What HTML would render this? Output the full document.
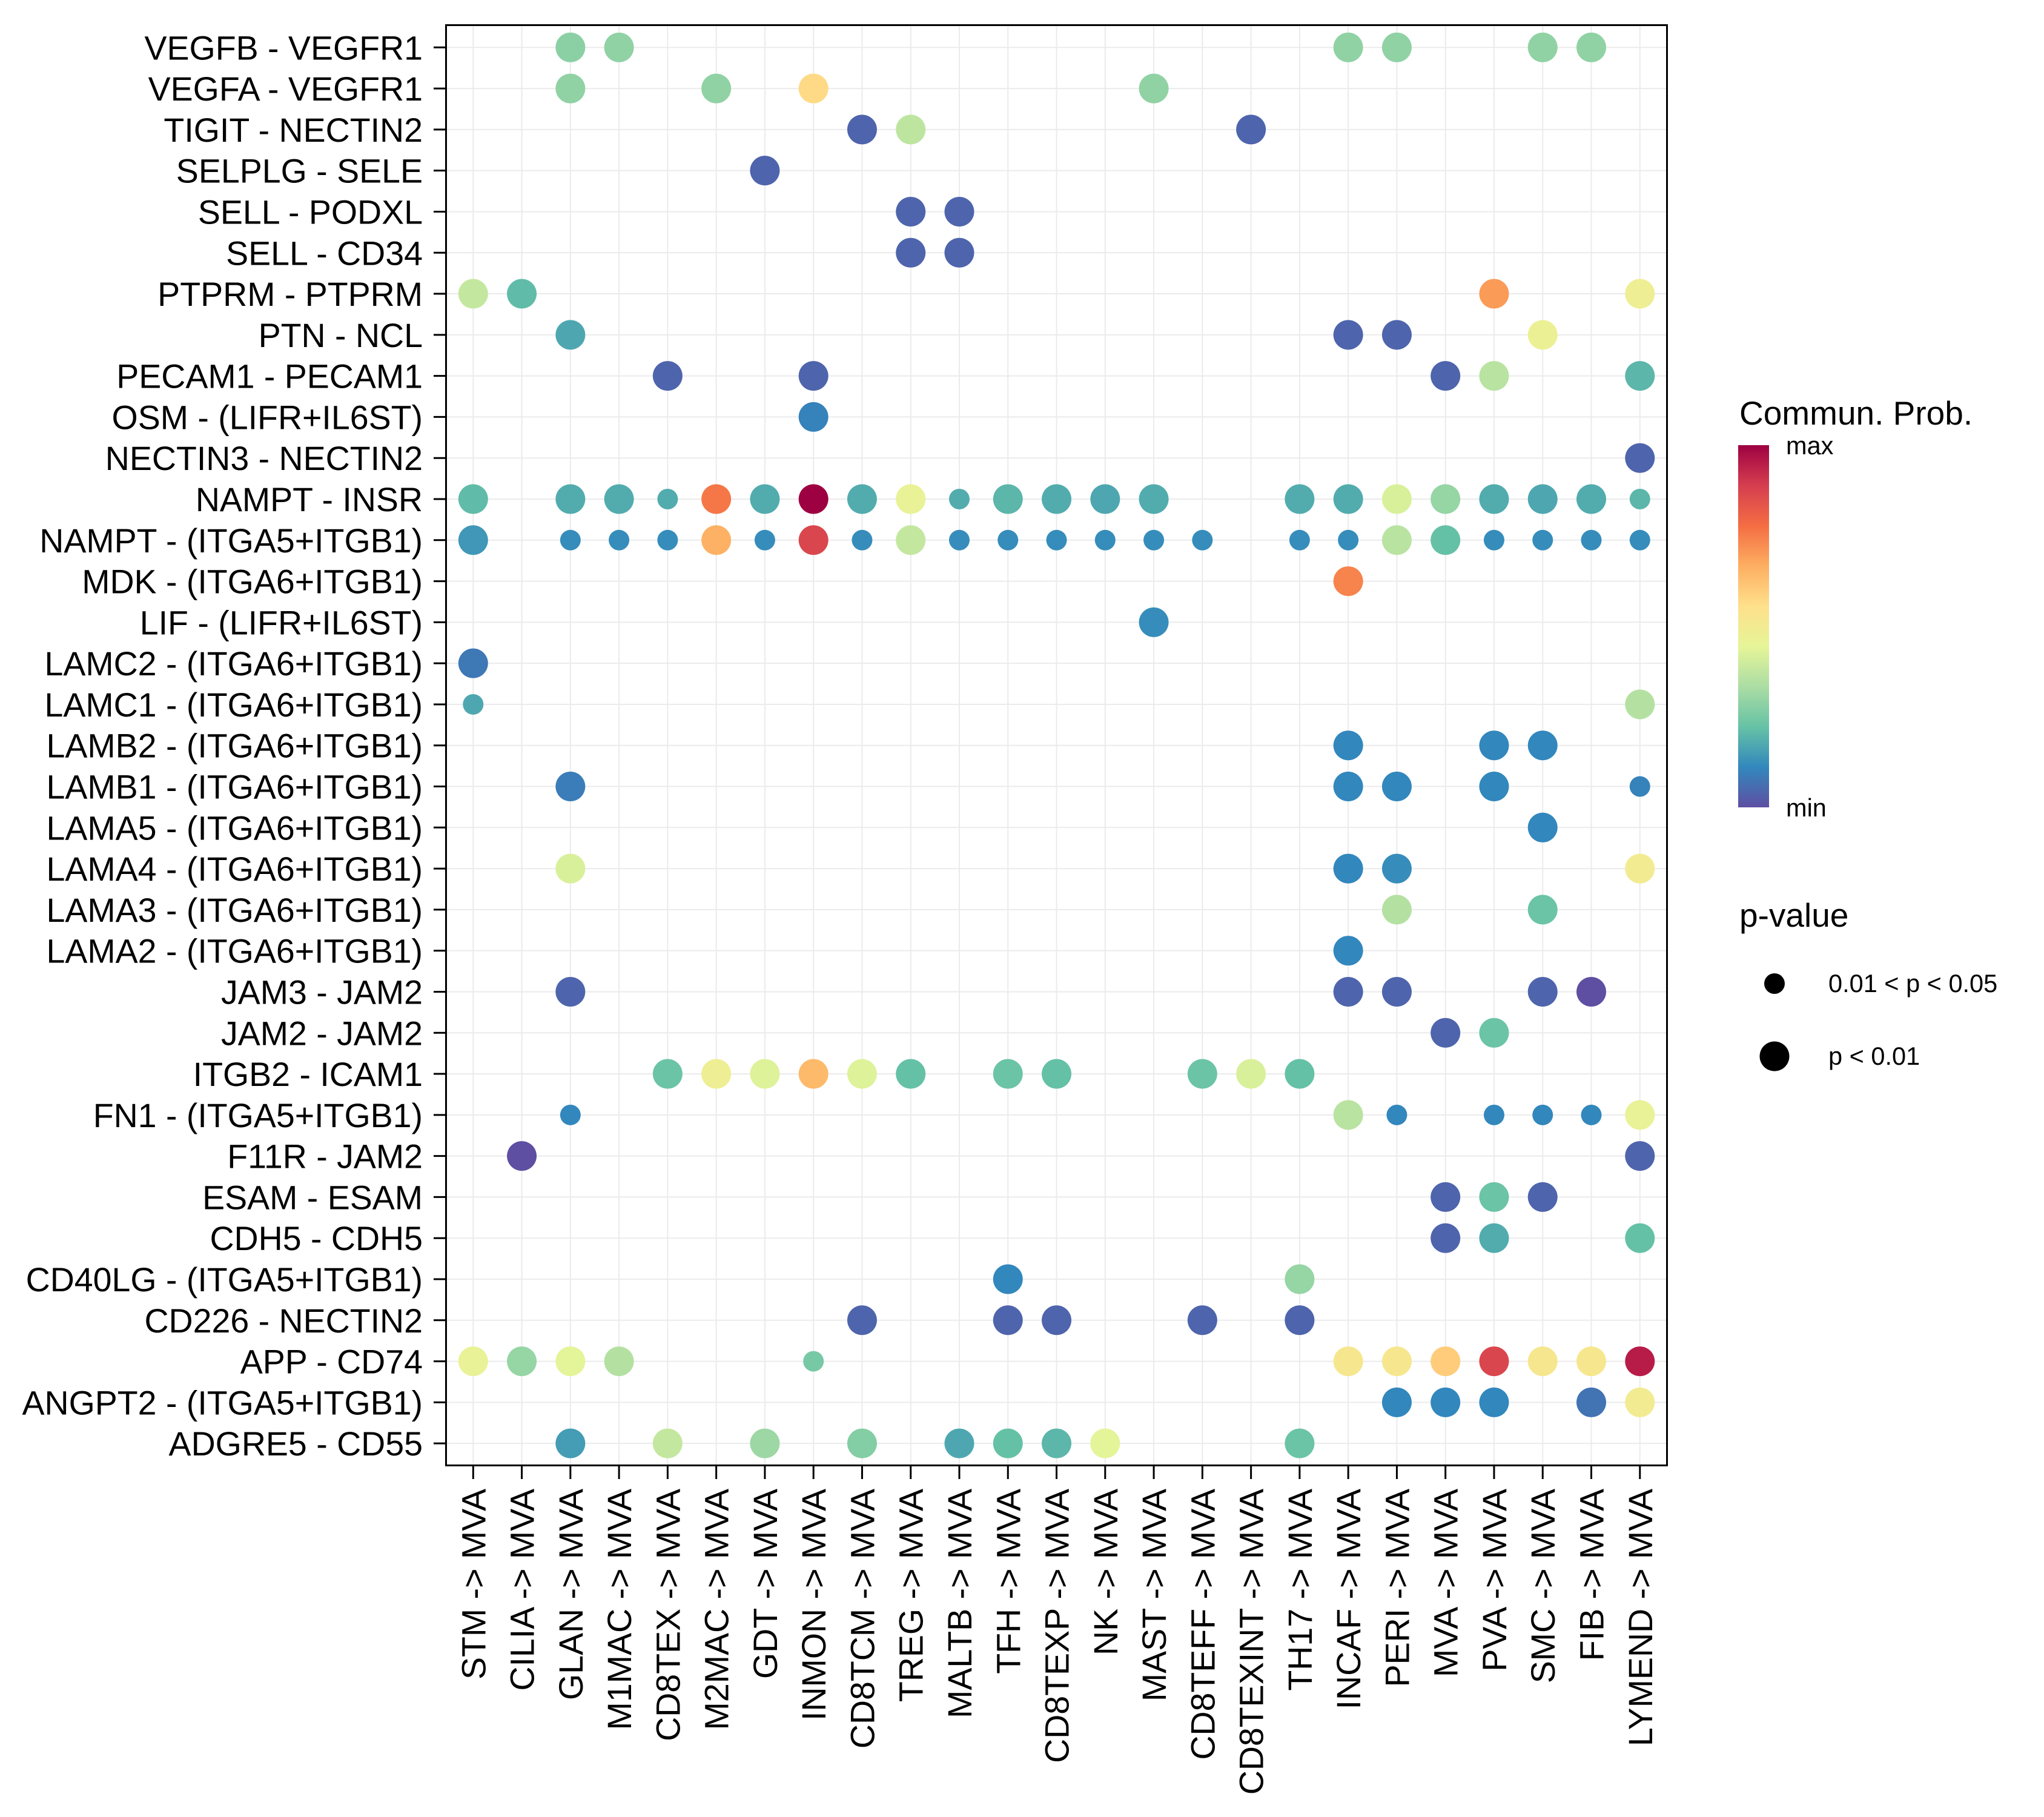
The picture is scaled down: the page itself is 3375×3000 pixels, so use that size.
<!DOCTYPE html>
<html><head><meta charset="utf-8"><style>
html,body{margin:0;padding:0;background:#fff;}
svg{display:block;font-family:"Liberation Sans",Arial,sans-serif;}
</style></head><body>
<svg id="chart" width="3375" height="3000" viewBox="0 0 3375 3000" xmlns="http://www.w3.org/2000/svg">
<defs>
<linearGradient id="spectral" x1="0" y1="1" x2="0" y2="0">
<stop offset="0" stop-color="#5E4FA2"/><stop offset="0.111" stop-color="#3288BD"/><stop offset="0.222" stop-color="#66C2A5"/><stop offset="0.333" stop-color="#ABDDA4"/><stop offset="0.444" stop-color="#E6F598"/><stop offset="0.556" stop-color="#FEE08B"/><stop offset="0.667" stop-color="#FDAE61"/><stop offset="0.778" stop-color="#F46D43"/><stop offset="0.889" stop-color="#D53E4F"/><stop offset="1" stop-color="#9E0142"/>
</linearGradient>
</defs>
<g id="grid"></g>
<g id="dots"></g>
<rect x="736.5" y="41.5" width="2016" height="2378" fill="none" stroke="#000" stroke-width="3"/>
<g id="yaxis"></g>
<g id="xaxis"></g>
<g>
<text x="2872" y="701" font-size="55">Commun. Prob.</text>
<rect x="2870" y="735" width="51" height="598" fill="url(#spectral)"/>
<text x="2949" y="750" font-size="41.5">max</text>
<text x="2949" y="1348" font-size="41.5">min</text>
</g>
<g>
<text x="2872" y="1530" font-size="55">p-value</text>
<circle cx="2930" cy="1624" r="17" fill="#000"/>
<text x="3019" y="1638" font-size="41.5">0.01 &lt; p &lt; 0.05</text>
<circle cx="2930" cy="1744" r="24.5" fill="#000"/>
<text x="3019" y="1758" font-size="41.5">p &lt; 0.01</text>
</g>
</svg>
<script>
const columns = ["STM","CILIA","GLAN","M1MAC","CD8TEX","M2MAC","GDT","INMON","CD8TCM","TREG","MALTB","TFH","CD8TEXP","NK","MAST","CD8TEFF","CD8TEXINT","TH17","INCAF","PERI","MVA","PVA","SMC","FIB","LYMEND"];
const rowLabels = ["VEGFB - VEGFR1","VEGFA - VEGFR1","TIGIT - NECTIN2","SELPLG - SELE","SELL - PODXL","SELL - CD34","PTPRM - PTPRM","PTN - NCL","PECAM1 - PECAM1","OSM - (LIFR+IL6ST)","NECTIN3 - NECTIN2","NAMPT - INSR","NAMPT - (ITGA5+ITGB1)","MDK - (ITGA6+ITGB1)","LIF - (LIFR+IL6ST)","LAMC2 - (ITGA6+ITGB1)","LAMC1 - (ITGA6+ITGB1)","LAMB2 - (ITGA6+ITGB1)","LAMB1 - (ITGA6+ITGB1)","LAMA5 - (ITGA6+ITGB1)","LAMA4 - (ITGA6+ITGB1)","LAMA3 - (ITGA6+ITGB1)","LAMA2 - (ITGA6+ITGB1)","JAM3 - JAM2","JAM2 - JAM2","ITGB2 - ICAM1","FN1 - (ITGA5+ITGB1)","F11R - JAM2","ESAM - ESAM","CDH5 - CDH5","CD40LG - (ITGA5+ITGB1)","CD226 - NECTIN2","APP - CD74","ANGPT2 - (ITGA5+ITGB1)","ADGRE5 - CD55"];
// each entry: [column index, prob value 0..1, pvalue class (1 = 0.01<p<0.05, 2 = p<0.01)]
const rowPairs = [
[[2,.28,2],[3,.29,2],[18,.29,2],[19,.29,2],[22,.29,2],[23,.29,2]],
[[2,.29,2],[5,.29,2],[7,.57,2],[14,.29,2]],
[[8,.04,2],[9,.37,2],[16,.04,2]],
[[6,.04,2]],
[[9,.04,2],[10,.04,2]],
[[9,.04,2],[10,.04,2]],
[[0,.38,2],[1,.21,2],[21,.70,2],[24,.48,2]],
[[2,.17,2],[18,.04,2],[19,.04,2],[22,.47,2]],
[[4,.04,2],[7,.04,2],[20,.04,2],[21,.36,2],[24,.20,2]],
[[7,.10,2]],
[[24,.04,2]],
[[0,.21,2],[2,.18,2],[3,.18,2],[4,.18,1],[5,.76,2],[6,.18,2],[7,1.0,2],[8,.18,2],[9,.46,2],[10,.18,1],[11,.20,2],[12,.18,2],[13,.17,2],[14,.18,2],[17,.18,2],[18,.18,2],[19,.42,2],[20,.30,2],[21,.18,2],[22,.17,2],[23,.18,2],[24,.20,1]],
[[0,.14,2],[2,.12,1],[3,.12,1],[4,.12,1],[5,.66,2],[6,.12,1],[7,.87,2],[8,.12,1],[9,.38,2],[10,.12,1],[11,.12,1],[12,.12,1],[13,.12,1],[14,.12,1],[15,.12,1],[17,.12,1],[18,.12,1],[19,.36,2],[20,.22,2],[21,.12,1],[22,.12,1],[23,.12,1],[24,.12,1]],
[[18,.74,2]],
[[14,.12,2]],
[[0,.08,2]],
[[0,.17,1],[24,.35,2]],
[[18,.11,2],[21,.11,2],[22,.11,2]],
[[2,.09,2],[18,.11,2],[19,.11,2],[21,.11,2],[24,.10,1]],
[[22,.11,2]],
[[2,.42,2],[18,.11,2],[19,.12,2],[24,.50,2]],
[[19,.35,2],[22,.23,2]],
[[18,.11,2]],
[[2,.04,2],[18,.04,2],[19,.04,2],[22,.04,2],[23,.0,2]],
[[20,.04,2],[21,.23,2]],
[[4,.23,2],[5,.48,2],[6,.43,2],[7,.64,2],[8,.43,2],[9,.22,2],[11,.23,2],[12,.22,2],[15,.23,2],[16,.42,2],[17,.22,2]],
[[2,.11,1],[18,.36,2],[19,.11,1],[21,.11,1],[22,.11,1],[23,.11,1],[24,.46,2]],
[[1,.0,2],[24,.04,2]],
[[20,.04,2],[21,.23,2],[22,.04,2]],
[[20,.04,2],[21,.18,2],[24,.22,2]],
[[11,.11,2],[17,.30,2]],
[[8,.04,2],[11,.04,2],[12,.04,2],[15,.04,2],[17,.04,2]],
[[0,.46,2],[1,.30,2],[2,.44,2],[3,.35,2],[7,.25,1],[18,.52,2],[19,.52,2],[20,.60,2],[21,.87,2],[22,.52,2],[23,.52,2],[24,.95,2]],
[[19,.11,2],[20,.11,2],[21,.11,2],[23,.07,2],[24,.50,2]],
[[2,.15,2],[4,.38,2],[6,.31,2],[8,.27,2],[10,.17,2],[11,.22,2],[12,.20,2],[13,.44,2],[17,.23,2]]
];
const rampStops = ["#5E4FA2","#3288BD","#66C2A5","#ABDDA4","#E6F598","#FEE08B","#FDAE61","#F46D43","#D53E4F","#9E0142"];

const NS="http://www.w3.org/2000/svg";
const X0=781.3, DX=80.27, Y0=78.3, DY=67.79;
function xCol(i){return X0+i*DX;}
function yRow(j){return Y0+j*DY;}
function sizeFor(c){return c===2?24.5:17;}
function hex(h){return [parseInt(h.slice(1,3),16),parseInt(h.slice(3,5),16),parseInt(h.slice(5,7),16)];}
function colorFor(v){
  const t=Math.max(0,Math.min(1,v))*(rampStops.length-1);
  const k=Math.min(rampStops.length-2,Math.floor(t)), f=t-k;
  const a=hex(rampStops[k]), b=hex(rampStops[k+1]);
  return "rgb("+a.map((x,i)=>Math.round(x+(b[i]-x)*f)).join(",")+")";
}
function mk(tag,attrs,parent){const e=document.createElementNS(NS,tag);for(const k in attrs)e.setAttribute(k,attrs[k]);parent.appendChild(e);return e;}

const grid=document.getElementById('grid');
columns.forEach((c,i)=>{
  const l=mk('line',{x1:xCol(i),x2:xCol(i),y1:41,y2:2420,stroke:'#ebebeb','stroke-width':2},grid);
  
  
});
rowLabels.forEach((r,j)=>{
  const l=mk('line',{x1:737,x2:2752,y1:yRow(j),y2:yRow(j),stroke:'#ebebeb','stroke-width':2},grid);
  
  
});

const ya=document.getElementById('yaxis');
rowLabels.forEach((r,j)=>{
  const t=mk('line',{x1:716,x2:735,y1:yRow(j),y2:yRow(j),stroke:'#000','stroke-width':3},ya);
  
  
  const tx=mk('text',{x:698,y:yRow(j)+20,'text-anchor':'end','font-size':55.5},ya);
  tx.textContent=r;
  
  
});

const xa=document.getElementById('xaxis');
columns.forEach((c,i)=>{
  const x=xCol(i);
  const t=mk('line',{x1:x,x2:x,y1:2421,y2:2442,stroke:'#000','stroke-width':3},xa);
  
  
  const tx=mk('text',{x:0,y:0,'text-anchor':'end','font-size':55.5,transform:'translate('+(x+20)+',2458) rotate(-90)'},xa);
  tx.textContent=c+' -> MVA';
  
  
});

const dots=document.getElementById('dots');
rowPairs.forEach((pairs,j)=>{
  pairs.forEach(p=>{
    const d=mk('circle',{cx:xCol(p[0]),cy:yRow(j),r:sizeFor(p[2]),fill:colorFor(p[1])},dots);
    
    
  });
});
</script>
</body></html>
